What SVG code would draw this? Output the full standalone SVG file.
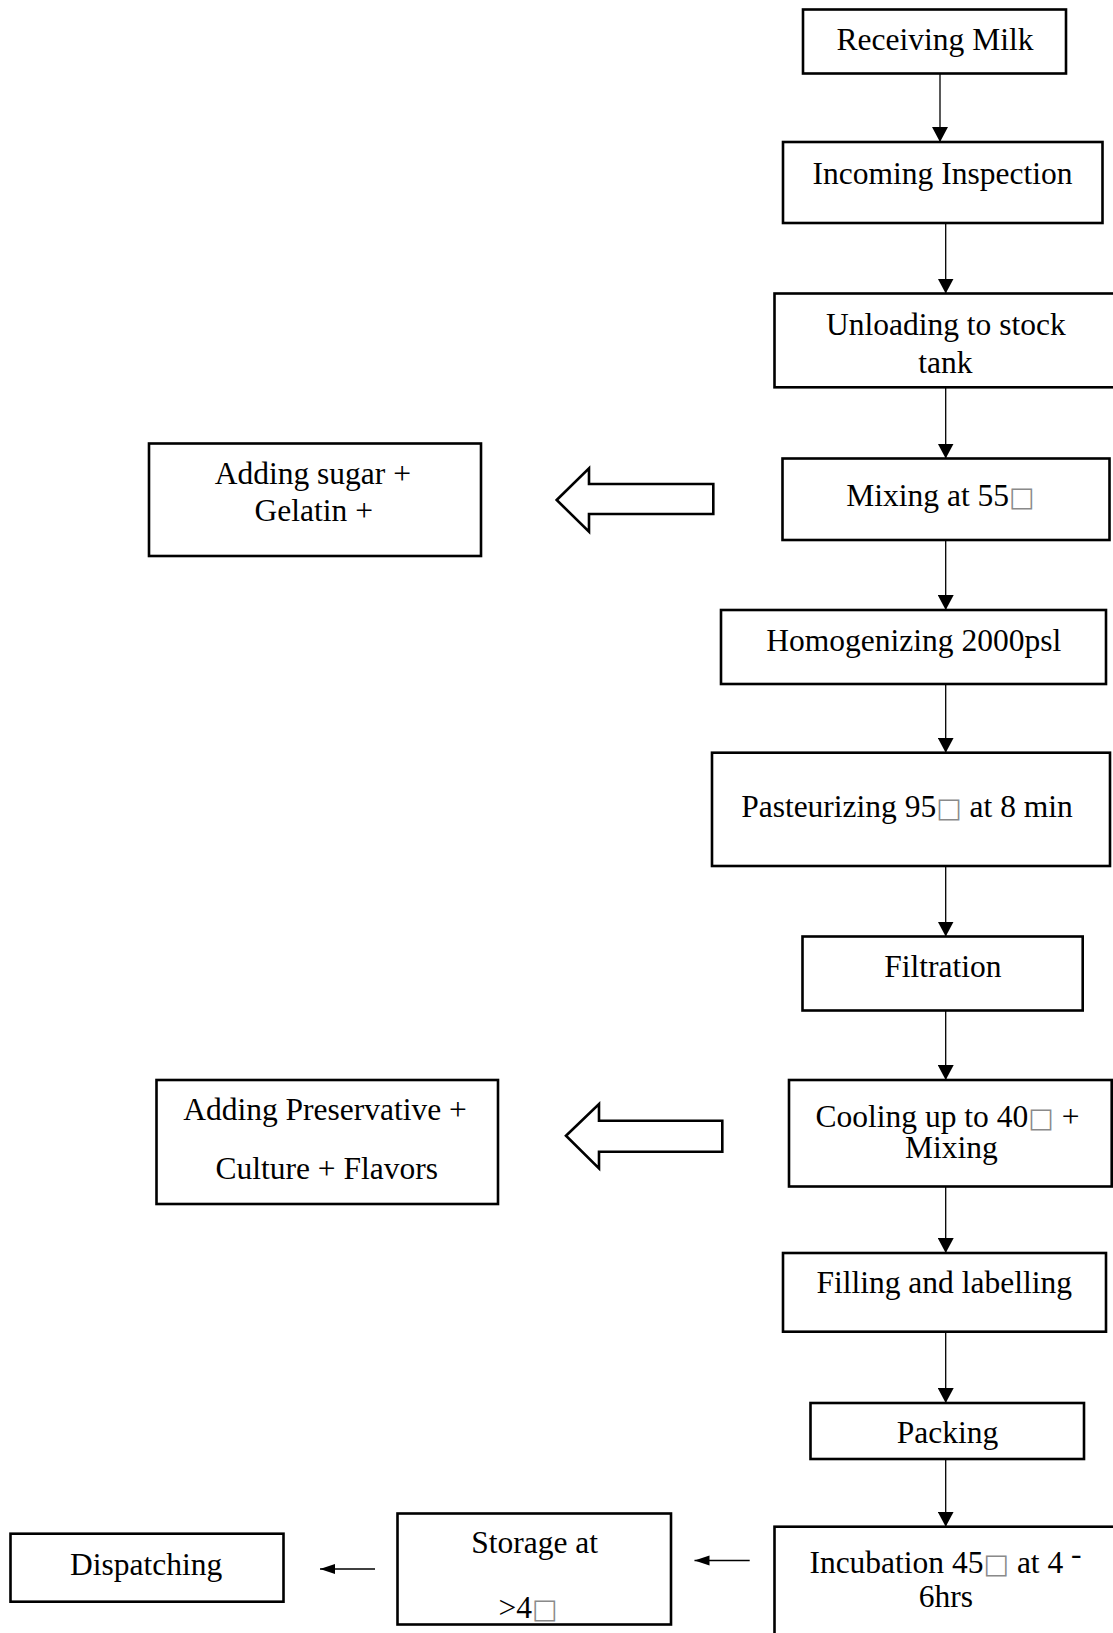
<svg xmlns="http://www.w3.org/2000/svg" width="1113" height="1633" viewBox="0 0 1113 1633">
<style>
  .box { fill: #fff; stroke: #000; stroke-width: 2.6; }
  .t { font-family: 'Liberation Serif', 'Times New Roman', Times, serif; font-size: 31.5px; fill: #000; text-anchor: middle; }
  .sq { font-family: 'DejaVu Sans', sans-serif; font-size: 27px; fill: #8a8a8a; }
  .conn { stroke: #000; stroke-width: 1.3; fill: none; }
  .hollow { fill: #fff; stroke: #000; stroke-width: 2.6; stroke-linejoin: miter; }
</style>
<defs>
  <marker id="ah" markerUnits="userSpaceOnUse" markerWidth="16" markerHeight="16" refX="15" refY="8" orient="auto">
    <path d="M0,0 L15,8 L0,16 z" fill="#000"/>
  </marker>
  <marker id="ahs" markerUnits="userSpaceOnUse" markerWidth="16" markerHeight="11" refX="15" refY="5" orient="auto">
    <path d="M0,0 L15,5 L0,10 z" fill="#000"/>
  </marker>
</defs>
<rect width="1113" height="1633" fill="#fff"/>

<g id="connectors">
  <line class="conn" x1="940" y1="74" x2="940" y2="142" marker-end="url(#ah)"/>
  <line class="conn" x1="945.7" y1="223" x2="945.7" y2="293.5" marker-end="url(#ah)"/>
  <line class="conn" x1="945.7" y1="387.3" x2="945.7" y2="458.5" marker-end="url(#ah)"/>
  <line class="conn" x1="945.7" y1="540" x2="945.7" y2="610" marker-end="url(#ah)"/>
  <line class="conn" x1="945.7" y1="684" x2="945.7" y2="752.7" marker-end="url(#ah)"/>
  <line class="conn" x1="945.7" y1="866" x2="945.7" y2="936.5" marker-end="url(#ah)"/>
  <line class="conn" x1="945.7" y1="1010.5" x2="945.7" y2="1080" marker-end="url(#ah)"/>
  <line class="conn" x1="945.7" y1="1182" x2="945.7" y2="1253" marker-end="url(#ah)"/>
  <line class="conn" x1="945.7" y1="1331.7" x2="945.7" y2="1403" marker-end="url(#ah)"/>
  <line class="conn" x1="945.7" y1="1459" x2="945.7" y2="1526.7" marker-end="url(#ah)"/>
  <line class="conn" x1="749.7" y1="1560.5" x2="694.5" y2="1560.5" marker-end="url(#ahs)"/>
  <line class="conn" x1="375" y1="1569" x2="320" y2="1569" marker-end="url(#ahs)"/>
  <polygon class="hollow" points="556.7,500 589,468.3 589,484 713.3,484 713.3,514 589,514 589,531.7"/>
  <polygon class="hollow" points="566,1135.7 599,1104 599,1120.7 722.3,1120.7 722.3,1151.7 599,1151.7 599,1168.3"/>
</g>

<g id="receiving-milk">
  <rect class="box" x="803" y="9.5" width="263" height="64"/>
  <text class="t" x="935" y="50">Receiving Milk</text>
</g>
<g id="incoming-inspection">
  <rect class="box" x="783" y="142" width="319.5" height="81"/>
  <text class="t" x="942.5" y="184.3">Incoming Inspection</text>
</g>
<g id="unloading">
  <rect class="box" x="774.5" y="293.5" width="342.5" height="93.8"/>
  <text class="t" x="945.8" y="335">Unloading to stock</text>
  <text class="t" x="945.4" y="372.5">tank</text>
</g>
<g id="mixing">
  <rect class="box" x="782.5" y="458.5" width="327" height="81.5"/>
  <text class="t" x="940.5" y="505.7">Mixing at 55<tspan class="sq">□</tspan></text>
</g>
<g id="homogenizing">
  <rect class="box" x="721" y="610" width="385" height="74"/>
  <text class="t" x="913.8" y="651">Homogenizing 2000psl</text>
</g>
<g id="pasteurizing">
  <rect class="box" x="712" y="752.7" width="398" height="113.3"/>
  <text class="t" x="907" y="816.7">Pasteurizing 95<tspan class="sq">□</tspan> at 8 min</text>
</g>
<g id="filtration">
  <rect class="box" x="802.5" y="936.5" width="280.2" height="74"/>
  <text class="t" x="942.8" y="976.7">Filtration</text>
</g>
<g id="cooling">
  <rect class="box" x="789" y="1080" width="322.7" height="106.5"/>
  <text class="t" x="947.5" y="1126.7">Cooling up to 40<tspan class="sq">□</tspan> +</text>
  <text class="t" x="951.3" y="1158.3">Mixing</text>
</g>
<g id="filling">
  <rect class="box" x="783" y="1253" width="323" height="78.7"/>
  <text class="t" x="944.2" y="1293">Filling and labelling</text>
</g>
<g id="packing">
  <rect class="box" x="810.5" y="1403" width="273.5" height="56"/>
  <text class="t" x="947.5" y="1443.3">Packing</text>
</g>
<g id="incubation">
  <rect class="box" x="774.5" y="1526.7" width="342.5" height="113.3"/>
  <text class="t" x="945.5" y="1573.3">Incubation 45<tspan class="sq">□</tspan> at 4 <tspan dy="-9">-</tspan></text>
  <text class="t" x="945.8" y="1606.7">6hrs</text>
</g>
<g id="storage">
  <rect class="box" x="397.5" y="1513.5" width="273.5" height="111"/>
  <text class="t" x="534.6" y="1553">Storage at</text>
  <text class="t" x="528" y="1618.3">&gt;4<tspan class="sq">□</tspan></text>
</g>
<g id="dispatching">
  <rect class="box" x="10.5" y="1533.7" width="273" height="68"/>
  <text class="t" x="146.2" y="1575">Dispatching</text>
</g>
<g id="adding-sugar">
  <rect class="box" x="149" y="443.5" width="332" height="112.5"/>
  <text class="t" x="312.8" y="484.3">Adding sugar +</text>
  <text class="t" x="313.8" y="521">Gelatin +</text>
</g>
<g id="adding-preservative">
  <rect class="box" x="156.5" y="1080" width="341.5" height="124"/>
  <text class="t" x="325" y="1120">Adding Preservative +</text>
  <text class="t" x="326.7" y="1179">Culture + Flavors</text>
</g>
</svg>
